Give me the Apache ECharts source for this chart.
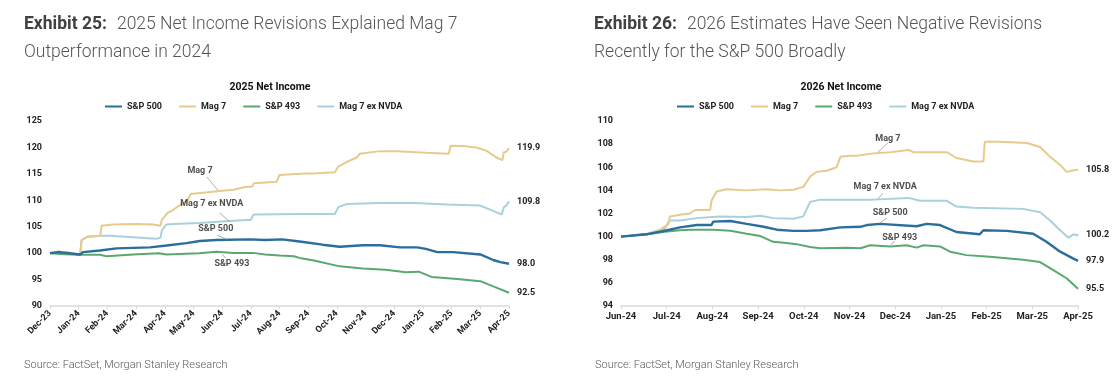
<!DOCTYPE html>
<html>
<head>
<meta charset="utf-8">
<script src="https://cdn.jsdelivr.net/npm/echarts@6/dist/echarts.min.js"></script>
<style>
html,body{margin:0;padding:0;background:#fff;}
#c{width:1119px;height:376px;}
</style>
</head>
<body>
<div id="c"></div>
<script>
// ---------- Tick labels ----------
const leftMonths = ['Dec-23','Jan-24','Feb-24','Mar-24','Apr-24','May-24','Jun-24','Jul-24','Aug-24','Sep-24','Oct-24','Nov-24','Dec-24','Jan-25','Feb-25','Mar-25','Apr-25'];
const rightMonths = ['Jun-24','Jul-24','Aug-24','Sep-24','Oct-24','Nov-24','Dec-24','Jan-25','Feb-25','Mar-25','Apr-25'];
const seriesNames = ['S&P 500','Mag 7','S&P 493','Mag 7 ex NVDA'];

// ---------- Exhibit 25: 2025 Net Income (x = months since Dec-23) ----------
const l_sp500_x = [0,0.3,1.05,1.15,1.74,2.32,3.48,4.06,4.76,5.22,5.8,6.96,7.5,8.1,8.7,9.5,10.1,10.9,11.5,12.2,12.8,13.1,13.5,14.05,15.0,15.45,15.7,16.0];
const l_sp500_y = [100,100.2,99.75,100.2,100.5,100.9,101.1,101.45,101.9,102.3,102.5,102.6,102.5,102.6,102.2,101.6,101.2,101.5,101.5,101.1,101.1,100.8,100.2,100.2,99.75,98.7,98.3,98.0];

const l_mag7_x = [0,0.3,0.7,1.05,1.1,1.3,1.75,1.8,2.2,3.0,3.6,3.85,3.9,4.1,4.3,4.5,4.8,4.9,5.5,6.0,6.4,6.8,7.05,7.1,7.9,8.0,8.7,9.3,9.93,10.05,10.45,10.69,10.8,11.5,12.1,13.1,13.9,13.96,14.5,14.86,15.21,15.56,15.77,15.82,15.91,16.0];
const l_mag7_y = [100,100.3,100.1,99.6,102.5,103.1,103.3,105.2,105.4,105.5,105.4,105.2,106.3,107.6,108.2,109.0,110.0,111.2,111.5,111.8,112.0,112.5,112.6,113.2,113.5,114.8,115.0,115.1,115.3,116.4,117.5,118.1,118.8,119.3,119.3,119.0,118.8,120.3,120.2,120.0,119.4,118.1,117.6,119.1,119.2,119.9];

const l_sp493_x = [0,0.5,1.05,1.74,1.97,2.9,3.8,4.06,5.2,5.8,6.4,7.08,7.5,8.0,8.5,8.7,9.2,10.1,10.9,11.7,12.4,12.85,13.3,14.2,15.0,15.45,16.0];
const l_sp493_y = [100,99.8,99.7,99.7,99.4,99.75,100.0,99.75,100.0,100.25,100.05,100.05,99.75,99.55,99.4,99.1,98.6,97.5,97.1,96.85,96.4,96.5,95.5,95.1,94.7,93.7,92.5];

const l_exnvda_x = [0,0.3,0.7,1.05,1.1,1.3,1.75,2.1,2.9,3.7,3.85,3.9,4.05,4.3,5.2,6.0,7.0,7.1,8.7,9.93,10.05,10.35,11.5,12.7,13.86,15.0,15.4,15.75,15.82,15.91,16.0];
const l_exnvda_y = [100,100.3,100.0,99.6,102.4,103.1,103.3,103.3,103.0,102.7,102.9,104.3,105.4,105.5,105.7,106.0,106.3,107.3,107.4,107.4,108.7,109.3,109.5,109.5,109.2,109.0,108.1,107.3,108.7,109.0,109.8];

// ---------- Exhibit 26: 2026 Net Income (x = months since Jun-24) ----------
const r_sp500_x = [0,0.56,1.01,1.29,1.66,1.98,2.02,2.39,2.75,3.12,3.41,3.77,4.06,4.36,4.8,5.24,5.38,5.67,6.47,6.69,6.98,7.34,7.85,7.93,8.44,9.02,9.31,9.61,9.9,10.0];
const r_sp500_y = [100,100.2,100.55,100.8,101.0,101.0,101.3,101.35,101.1,100.85,100.6,100.5,100.5,100.55,100.8,100.85,101.0,101.1,100.9,101.1,101.0,100.4,100.2,100.55,100.5,100.25,99.55,98.7,98.1,97.9];

const r_mag7_x = [0,0.56,0.78,0.93,1.04,1.07,1.29,1.51,1.62,1.95,1.98,2.09,2.31,2.75,3.19,3.48,3.77,3.99,4.14,4.28,4.5,4.72,4.8,5.02,5.16,5.52,5.89,6.29,6.4,7.13,7.34,7.71,7.93,7.96,8.29,8.88,9.17,9.39,9.61,9.75,9.86,10.0];
const r_mag7_y = [100,100.2,100.4,100.8,101.1,101.75,101.9,102.0,102.3,102.3,103.1,103.9,104.1,104.0,104.1,104.0,104.05,104.3,105.2,105.6,105.7,106.0,106.9,107.0,107.0,107.2,107.3,107.5,107.3,107.3,106.8,106.5,106.5,108.2,108.2,108.1,107.75,106.9,106.2,105.6,105.7,105.8];

const r_sp493_x = [0,0.56,1.01,1.29,1.51,2.02,2.39,2.75,3.05,3.33,3.62,3.84,4.14,4.36,4.95,5.24,5.45,5.89,6.25,6.47,6.62,6.98,7.2,7.56,8.07,8.8,9.17,9.46,9.75,10.0];
const r_sp493_y = [100,100.2,100.45,100.55,100.6,100.6,100.5,100.25,100.05,99.55,99.45,99.35,99.1,99.0,99.03,99.0,99.25,99.15,99.25,99.05,99.25,99.15,98.7,98.4,98.25,98.0,97.8,97.1,96.4,95.5];

const r_exnvda_x = [0,0.56,0.96,1.06,1.29,1.66,2.16,2.75,3.05,3.33,3.77,3.99,4.14,4.36,5.24,5.52,6.29,6.54,7.13,7.34,7.71,8.8,9.17,9.39,9.61,9.79,9.9,9.98,10.0];
const r_exnvda_y = [100,100.25,100.7,101.4,101.4,101.6,101.75,101.7,101.8,101.6,101.55,101.75,103.0,103.2,103.2,103.2,103.35,103.1,103.1,102.6,102.5,102.4,102.1,101.4,100.55,99.9,100.2,100.1,100.2];

// ---------- Annotation anchors (data space) ----------
const leftNotes = [
  {text:'Mag 7', at:[5.23,115.5], from:[5.47,114.4], to:[5.85,111.9]},
  {text:'Mag 7 ex NVDA', at:[5.64,109.3], from:[5.92,107.6], to:[6.27,105.9]},
  {text:'S&P 500', at:[5.78,104.7], from:[5.82,103.4], to:[6.17,102.6]},
  {text:'S&P 493', at:[6.34,97.9], from:[6.13,99.05], to:[6.0,99.8]}
];
const rightNotes = [
  {text:'Mag 7', at:[5.84,108.44], from:[5.84,108.1], to:[5.62,107.3]},
  {text:'Mag 7 ex NVDA', at:[5.78,104.3], from:[5.73,103.77], to:[5.62,103.25]},
  {text:'S&P 500', at:[5.89,102.04], from:[5.82,101.6], to:[5.67,101.18]},
  {text:'S&P 493', at:[6.1,99.9], from:[6.0,99.6], to:[5.9,99.3]}
];

// ---------- Styling ----------
const colors = {'S&P 500':'#2a6e9c','Mag 7':'#e6cb8c','S&P 493':'#5aa86f','Mag 7 ex NVDA':'#a9d0dd'};
const widths = {'S&P 500':2.4,'Mag 7':2,'S&P 493':2,'Mag 7 ex NVDA':2};
const FONT = 'Roboto';

function zip(xs, ys){ return xs.map((x,i)=>[x, ys[i]]); }

function lineSeries(name, xs, ys, gi){
  return {
    type:'line', name, xAxisIndex:gi, yAxisIndex:gi,
    data: zip(xs, ys), showSymbol:false, symbol:'none', smooth:false,
    lineStyle:{color:colors[name], width:widths[name]},
    itemStyle:{color:colors[name]},
    endLabel:{show:true, distance:8, formatter:p=>p.value[1].toFixed(1),
      fontFamily:FONT, fontWeight:'bold', fontSize:9, color:'#222'},
    emphasis:{disabled:true}, z: 3
  };
}

function noteSeries(notes, gi){
  return [{
    type:'scatter', xAxisIndex:gi, yAxisIndex:gi, symbolSize:0, silent:true,
    data: notes.map(n=>({value:n.at, label:{formatter:n.text}})),
    label:{show:true, position:'inside', fontFamily:FONT, fontWeight:'bold', fontSize:9, color:'#222'},
    z: 5
  },{
    type:'lines', coordinateSystem:'cartesian2d', xAxisIndex:gi, yAxisIndex:gi, silent:true,
    data: notes.map(n=>({coords:[n.from, n.to]})),
    lineStyle:{color:'#999', width:0.8, opacity:1}, z: 4
  }];
}

const axisLabelY = {fontFamily:FONT, fontWeight:'bold', fontSize:9, color:'#222', margin:8};
const titleRich = {
  b:{fontFamily:FONT, fontWeight:'bold', fontSize:17.5, color:'#404040', lineHeight:28},
  l:{fontFamily:FONT, fontWeight:300, fontSize:17.5, color:'#555', lineHeight:28}
};

const option = {
  animation:false,
  backgroundColor:'#fff',
  title:[
    {left:19, top:6, text:'{b|Exhibit 25:}  {l|2025 Net Income Revisions Explained Mag 7}\n{l|Outperformance in 2024}',
      textStyle:{rich:titleRich}},
    {left:589, top:6, text:'{b|Exhibit 26:}  {l|2026 Estimates Have Seen Negative Revisions}\n{l|Recently for the S&P 500 Broadly}',
      textStyle:{rich:titleRich}},
    {left:265, top:77, textAlign:'center', text:'2025 Net Income',
      textStyle:{fontFamily:FONT, fontWeight:'bold', fontSize:10.5, color:'#111'}},
    {left:836, top:77, textAlign:'center', text:'2026 Net Income',
      textStyle:{fontFamily:FONT, fontWeight:'bold', fontSize:10.5, color:'#111'}},
    {left:19, top:355, text:'Source: FactSet, Morgan Stanley Research',
      textStyle:{fontFamily:FONT, fontWeight:300, fontSize:11, color:'#595959'}},
    {left:590, top:355, text:'Source: FactSet, Morgan Stanley Research',
      textStyle:{fontFamily:FONT, fontWeight:300, fontSize:11, color:'#595959'}}
  ],
  legend:[
    {left:100, top:97, data:seriesNames, icon:'rect', itemWidth:17, itemHeight:2, itemGap:17,
      selectedMode:false, textStyle:{fontFamily:FONT, fontWeight:'bold', fontSize:9, color:'#222'}},
    {left:672, top:97, data:seriesNames, icon:'rect', itemWidth:17, itemHeight:2, itemGap:17,
      selectedMode:false, textStyle:{fontFamily:FONT, fontWeight:'bold', fontSize:9, color:'#222'}}
  ],
  grid:[
    {left:50, top:121, width:459, height:185, containLabel:false},
    {left:621, top:121, width:457, height:185, containLabel:false}
  ],
  xAxis:[
    {type:'value', gridIndex:0, min:0, max:16, interval:1,
      axisLine:{show:true, lineStyle:{color:'#d9d9d9', width:1.5}},
      axisTick:{show:true, length:3, lineStyle:{color:'#d9d9d9'}},
      splitLine:{show:false},
      axisLabel:{rotate:45, margin:6, fontFamily:FONT, fontWeight:'bold', fontSize:9, color:'#222',
        formatter:v=>Number.isInteger(v)?leftMonths[v]:''}},
    {type:'value', gridIndex:1, min:0, max:10, interval:1,
      axisLine:{show:true, lineStyle:{color:'#d9d9d9', width:1.5}},
      axisTick:{show:true, length:3, lineStyle:{color:'#d9d9d9'}},
      splitLine:{show:false},
      axisLabel:{margin:6, fontFamily:FONT, fontWeight:'bold', fontSize:9.5, color:'#222',
        formatter:v=>Number.isInteger(v)?rightMonths[v]:''}}
  ],
  yAxis:[
    {type:'value', gridIndex:0, min:90, max:125, interval:5,
      axisLine:{show:false}, axisTick:{show:false}, splitLine:{show:false}, axisLabel:axisLabelY},
    {type:'value', gridIndex:1, min:94, max:110, interval:2,
      axisLine:{show:false}, axisTick:{show:false}, splitLine:{show:false}, axisLabel:axisLabelY}
  ],
  series:[
    lineSeries('Mag 7 ex NVDA', l_exnvda_x, l_exnvda_y, 0),
    lineSeries('Mag 7', l_mag7_x, l_mag7_y, 0),
    lineSeries('S&P 493', l_sp493_x, l_sp493_y, 0),
    lineSeries('S&P 500', l_sp500_x, l_sp500_y, 0),
    lineSeries('Mag 7 ex NVDA', r_exnvda_x, r_exnvda_y, 1),
    lineSeries('Mag 7', r_mag7_x, r_mag7_y, 1),
    lineSeries('S&P 493', r_sp493_x, r_sp493_y, 1),
    lineSeries('S&P 500', r_sp500_x, r_sp500_y, 1),
    ...noteSeries(leftNotes, 0),
    ...noteSeries(rightNotes, 1)
  ]
};

const chart = echarts.init(document.getElementById('c'), null, {renderer:'canvas'});
chart.setOption(option);
</script>
</body>
</html>
